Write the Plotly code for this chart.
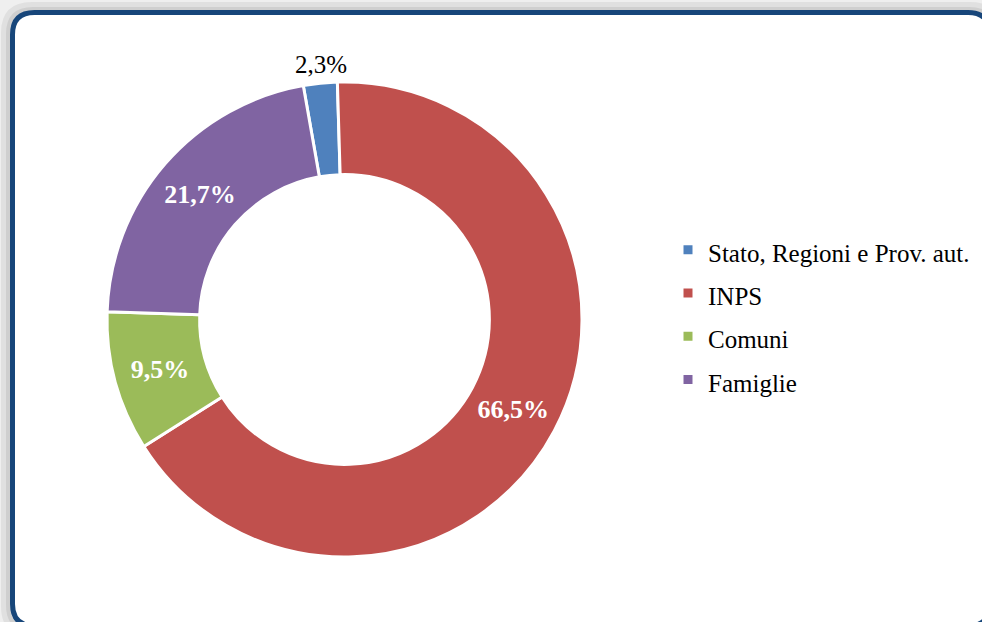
import math
import plotly.graph_objects as go

categories = ["Stato, Regioni e Prov. aut.", "INPS", "Comuni", "Famiglie"]
values = [2.3, 66.5, 9.5, 21.7]
value_labels = ["2,3%", "66,5%", "9,5%", "21,7%"]
colors = ["#4F81BD", "#C0504D", "#9BBB59", "#8064A2"]

W, H = 982, 622
FONT = "Liberation Serif"
ROTATION = -10
CX, CY, R_OUT = 344.5, 319.5, 237.5

def px(x):
    return x / W

def py(y):
    return 1 - y / H

def rrect(x0, y0, x1, y1, r):
    return (f"M {px(x0 + r)},{py(y0)} L {px(x1 - r)},{py(y0)} "
            f"Q {px(x1)},{py(y0)} {px(x1)},{py(y0 + r)} "
            f"L {px(x1)},{py(y1 - r)} Q {px(x1)},{py(y1)} {px(x1 - r)},{py(y1)} "
            f"L {px(x0 + r)},{py(y1)} Q {px(x0)},{py(y1)} {px(x0)},{py(y1 - r)} "
            f"L {px(x0)},{py(y0 + r)} Q {px(x0)},{py(y0)} {px(x0 + r)},{py(y0)} Z")

text_pos = ["none", "inside", "inside", "inside"]
texts = [value_labels[0]] + [f"<b>{t}</b>" for t in value_labels[1:]]

fig = go.Figure()
fig.add_trace(go.Pie(
    labels=[f'<span style="font-size:25px">{c}</span>' for c in categories],
    values=values,
    text=texts,
    textinfo="text",
    textposition=text_pos,
    insidetextorientation="horizontal",
    textfont=dict(family=FONT, size=26, color="#FFFFFF"),
    marker=dict(colors=colors, line=dict(color="#FFFFFF", width=3)),
    hole=0.61,
    sort=False,
    direction="clockwise",
    rotation=ROTATION,
    domain=dict(x=[px(CX - R_OUT), px(CX + R_OUT)], y=[py(CY + R_OUT), py(CY - R_OUT)]),
    hoverinfo="label+percent",
))

# outside label for the small first slice, placed on its bisector
total = sum(values)
mid_angle = math.radians(ROTATION + values[0] / 2 / total * 360)
r_lab = R_OUT + 19
lab_x = CX + r_lab * math.sin(mid_angle) + 3
lab_y = CY - r_lab * math.cos(mid_angle)

annotations = [dict(
    x=px(lab_x), y=py(lab_y), xref="paper", yref="paper",
    text=value_labels[0], showarrow=False, xanchor="center", yanchor="middle",
    font=dict(family=FONT, size=25, color="#000000"),
)]

shapes = [
    dict(type="path", path=rrect(4, 5, 998, 634, 28), xref="paper", yref="paper",
         line=dict(color="#e0e0e0", width=6), fillcolor="rgba(0,0,0,0)", layer="below"),
    dict(type="path", path=rrect(8, 9, 994, 630, 25), xref="paper", yref="paper",
         line=dict(color="#cfcfcf", width=4), fillcolor="rgba(0,0,0,0)", layer="below"),
    dict(type="path", path=rrect(12.5, 12.5, 990, 626, 22), xref="paper", yref="paper",
         line=dict(color="#17467A", width=5), fillcolor="#FFFFFF", layer="below"),
]

fig.update_layout(
    width=W, height=H,
    margin=dict(l=0, r=0, t=0, b=0),
    paper_bgcolor="#efefef",
    plot_bgcolor="#FFFFFF",
    shapes=shapes,
    annotations=annotations,
    showlegend=True,
    legend=dict(
        x=px(668), y=py(223), xanchor="left", yanchor="top",
        font=dict(family=FONT, size=31, color="#000000"),
        bgcolor="rgba(0,0,0,0)",
        traceorder="normal",
    ),
    font=dict(family=FONT),
)

fig.write_html(
    "out.html",
    config={"displayModeBar": False},
    post_script="document.body.style.margin='0px';document.body.style.overflow='hidden';",
)
